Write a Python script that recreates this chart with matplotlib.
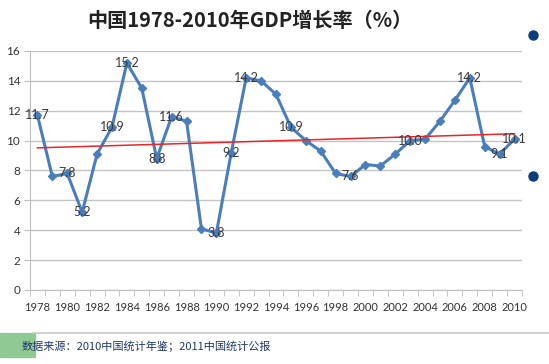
import numpy as np
import matplotlib.pyplot as plt
from matplotlib.patches import Rectangle

years = list(range(1978, 2011))
growth = [11.7, 7.6, 7.8, 5.2, 9.1, 10.9, 15.2, 13.5, 8.8, 11.6,
          11.3, 4.1, 3.8, 9.2, 14.2, 14.0, 13.1, 10.9, 10.0, 9.3,
          7.8, 7.6, 8.4, 8.3, 9.1, 10.0, 10.1, 11.3, 12.7, 14.2,
          9.6, 9.1, 10.1]
# years that carry a data label in the original
labelled = [1978, 1980, 1981, 1983, 1984, 1986, 1987, 1990, 1991, 1992,
            1995, 1999, 2003, 2007, 2009, 2010]
tick_years = list(range(1978, 2011, 2))

cjk = ['Noto Sans CJK SC', 'DejaVu Sans']

fig = plt.figure(figsize=(5.49, 3.64), dpi=100)
ax = fig.add_axes([0.0546, 0.2033, 0.8962, 0.6566])

ax.plot(years, growth, color='#4a7ebb', lw=2.2, marker='D', ms=4.5,
        mec='#4a7ebb', mfc='#4a7ebb', zorder=3)

# linear trend line
k, b = np.polyfit(years, growth, 1)
ax.plot([years[0], years[-1]], [k * years[0] + b, k * years[-1] + b],
        color='#e8262a', lw=1.1, zorder=4)

for yr, v in zip(years, growth):
    if yr in labelled:
        ax.text(yr, v, '%.1f' % v, ha='center', va='center', fontsize=9,
                family='Lato', color='#3a3a3a', zorder=5)

ax.set_xlim(1977.5, 2010.5)
ax.set_ylim(0, 16)
ax.set_yticks(range(0, 17, 2))
ax.set_xticks(tick_years)
ax.set_xticks(np.arange(1977.5, 2011, 1), minor=True)
ax.tick_params(axis='x', which='major', length=0, pad=9, labelsize=8,
               labelcolor='#333333')
ax.tick_params(axis='x', which='minor', length=4, color='#bfbfbf')
ax.tick_params(axis='y', length=4, color='#bfbfbf', labelsize=8.5,
               labelcolor='#333333', pad=3)
for lab in ax.get_xticklabels() + ax.get_yticklabels():
    lab.set_family('Lato')

ax.grid(axis='y', color='#c4c4c4', lw=1)
ax.set_axisbelow(True)
for s in ['top', 'right']:
    ax.spines[s].set_visible(False)
for s in ['left', 'bottom']:
    ax.spines[s].set_color('#bfbfbf')

fig.text(0.455, 0.945, '中国1978-2010年GDP增长率（%）', ha='center', va='center',
         fontsize=14.5, fontweight='bold', family=cjk, color='#222222')

# footer decoration
fig.add_artist(plt.Line2D([0.06, 1.0], [1 - 333 / 364] * 2, color='#c8c8c8', lw=1.2))
fig.add_artist(Rectangle((0, 1 - 357 / 364), 35 / 549, 24 / 364,
                         color='#90c994', transform=fig.transFigure))
fig.text(22 / 549, 1 - 346 / 364, '数据来源：2010中国统计年鉴；2011中国统计公报',
         ha='left', va='center', fontsize=8, family=cjk, color='#1f3a6a')

# bullet dots at the right edge
for yy in [35, 176]:
    fig.add_artist(plt.Line2D([533 / 549], [1 - yy / 364], marker='o', ms=6.5,
                              color='#0b3d78', lw=0))

fig.savefig('out.png', dpi=100)
